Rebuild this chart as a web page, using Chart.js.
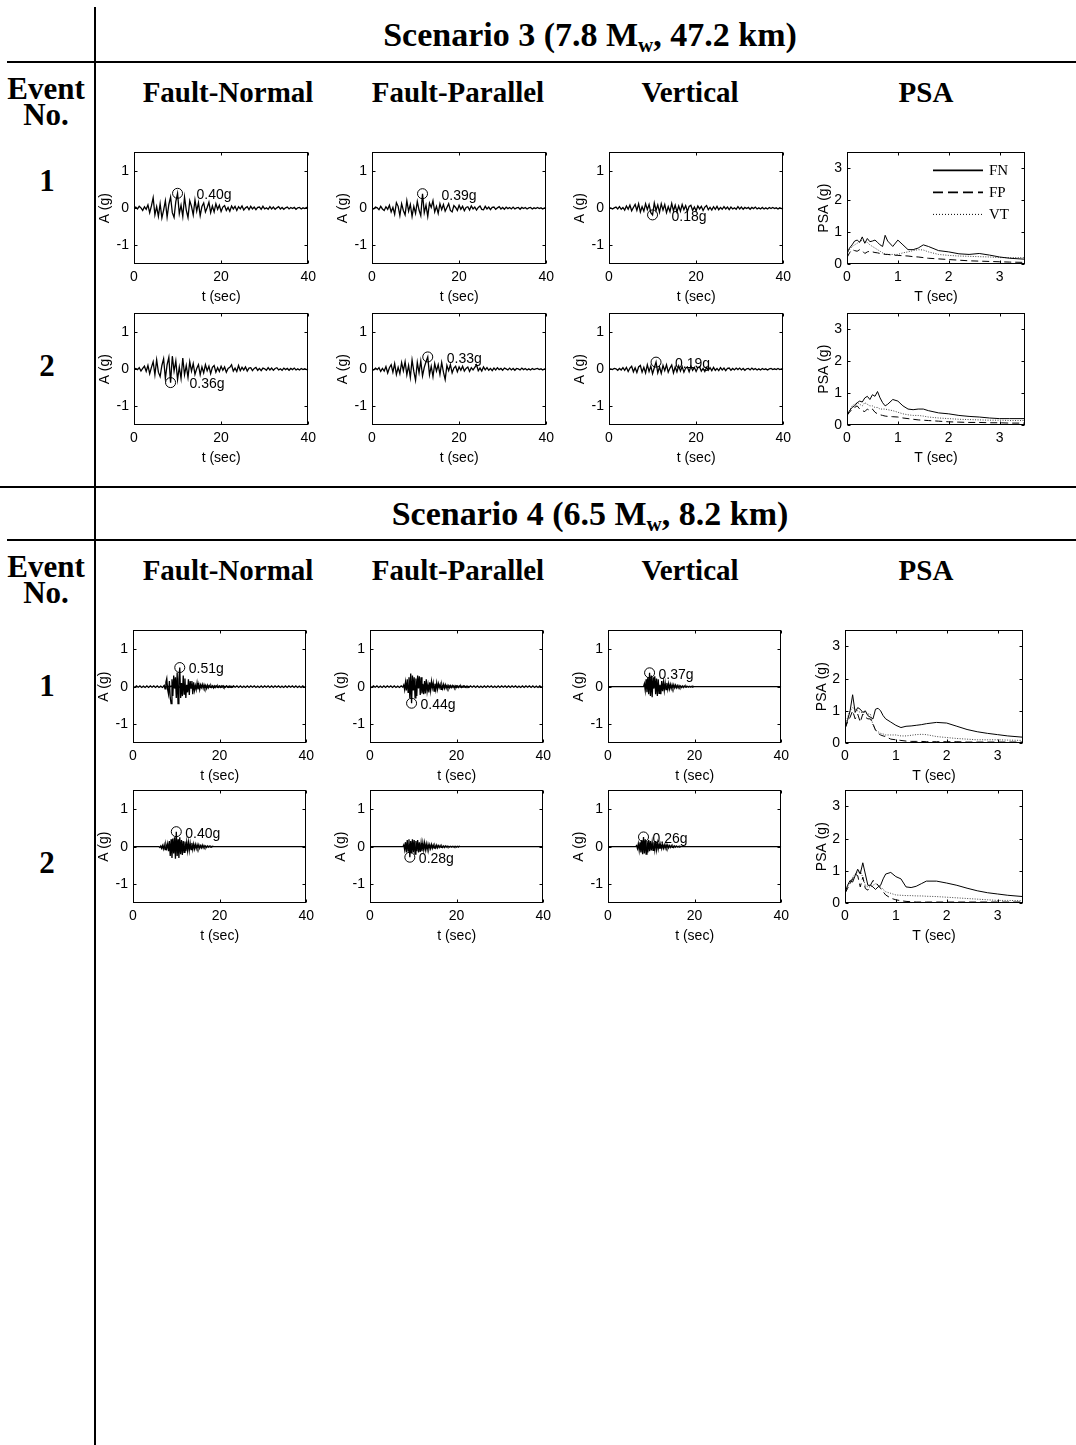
<!DOCTYPE html>
<html>
<head>
<meta charset="utf-8">
<script src="https://cdn.jsdelivr.net/npm/chart.js@4.4.0/dist/chart.umd.min.js"></script>
<style>
body { margin: 0; background: #fff; width: 1076px; height: 1445px; position: relative; overflow: hidden; font-family: "Liberation Serif", "Times New Roman", serif; }
.hd { position: absolute; font-weight: bold; font-size: 29px; line-height: 1; transform: translate(-50%, -50%); white-space: nowrap; color: #000; }
.ln { position: absolute; background: #000; }
</style>
</head>
<body>
<div class="ln" style="left:94px;top:7px;width:2px;height:1438px"></div>
<div class="ln" style="left:7px;top:61px;width:1069px;height:2px"></div>
<div class="ln" style="left:0;top:486px;width:1076px;height:2px"></div>
<div class="ln" style="left:7px;top:539px;width:1069px;height:2px"></div>
<script>
// ---- tick labels ----
const tsXTicks = [0, 20, 40];
const tsYTicks = [-1, 0, 1];
const psaTicks = [0, 1, 2, 3];
const seriesNames = ['FN', 'FP', 'VT'];
const columnTitles = ['Fault-Normal', 'Fault-Parallel', 'Vertical', 'PSA'];

// ---- Scenario 3 accelerograms (g), sampled every 0.4 s from t = 0 ----
const s3Step = 0.4;
const fnS3e1 = [0,0.03,-0.02,0.05,0.01,-0.06,0.04,-0.03,0.09,-0.12,
  0.06,0.28,-0.18,0.04,-0.22,0.12,-0.26,-0.05,0.2,-0.24,
  0.1,0.3,-0.12,-0.25,0.18,0.40,-0.15,0.08,-0.22,0.3,
  -0.05,-0.25,0.2,0.05,-0.18,0.22,-0.08,0.15,-0.2,0.05,
  0.14,-0.1,0.02,0.16,-0.12,0.06,-0.1,0.12,-0.03,0.08,
  -0.09,0.03,0.07,-0.06,0.02,-0.08,0.06,-0.02,0.05,-0.06,
  0.04,-0.02,0.06,-0.05,0.01,0.04,-0.04,0.05,-0.02,0.03,
  -0.04,0.02,0.03,-0.03,0.05,-0.02,0.01,-0.03,0.04,-0.02,
  0.03,-0.03,0.01,0.04,-0.02,0.02,-0.03,0.01,0.03,-0.02,
  0.02,-0.01,0.02,-0.03,0.01,0.02,-0.02,0.01,-0.01,0.02,0];
const fpS3e1 = [0,-0.02,0.03,0.01,-0.04,0.05,-0.02,-0.06,0.04,-0.03,
  0.08,-0.1,0.02,-0.16,0.15,0.05,-0.2,0.12,-0.06,-0.18,
  0.2,-0.08,0.1,-0.22,0.05,-0.14,0.18,-0.05,-0.2,0.39,
  -0.12,0.08,-0.22,0.14,0.02,0.2,-0.1,0.05,-0.14,0.12,
  -0.04,0.1,-0.08,0.02,0.12,-0.06,-0.1,0.07,0.02,-0.06,
  0.08,-0.03,0.05,-0.07,0.02,0.04,-0.05,0.06,-0.02,0.03,
  -0.05,0.02,0.06,-0.03,-0.04,0.05,-0.02,0.03,-0.04,0.02,
  0.03,-0.03,0.01,0.04,-0.02,0.02,-0.03,0.03,-0.01,0.02,
  -0.02,0.03,-0.02,0.01,0.02,-0.03,0.02,-0.01,0.02,-0.02,
  0.01,0.02,-0.02,0.01,-0.01,0.02,-0.01,0.01,-0.02,0.01,0];
const vtS3e1 = [0,0.01,-0.02,0.01,0.03,-0.02,0.04,-0.03,0.02,-0.05,
  0.06,-0.03,0.08,-0.07,0.02,0.1,-0.06,0.12,-0.1,0.04,
  -0.08,0.12,-0.04,0.1,-0.12,-0.18,0.14,-0.06,0.09,-0.11,
  0.12,-0.05,0.1,-0.12,0.04,-0.09,0.13,-0.07,0.08,-0.1,
  0.06,-0.08,0.1,-0.04,0.07,-0.09,0.05,0.08,-0.06,0.03,
  -0.07,0.06,-0.02,0.05,-0.06,0.03,0.07,-0.04,0.02,-0.05,
  0.04,-0.03,0.05,-0.04,0.02,-0.03,0.04,-0.02,0.03,-0.04,
  0.03,-0.02,0.01,-0.03,0.04,-0.02,0.03,-0.03,0.02,-0.01,
  0.02,-0.03,0.02,-0.01,0.03,-0.02,0.01,-0.02,0.02,-0.02,
  0.01,-0.02,0.02,-0.01,0.02,-0.01,0.01,-0.02,0.01,-0.01,0];
const fnS3e2 = [0,0.02,-0.01,0.04,-0.05,0.02,0.08,-0.06,0.1,-0.12,
  0.05,0.2,-0.15,0.25,-0.08,-0.2,0.1,0.28,-0.25,0.12,
  0.32,-0.36,0.35,-0.05,0.22,-0.28,0.06,-0.25,0.3,-0.15,
  0.1,-0.22,0.2,-0.05,0.15,-0.14,0.02,0.12,-0.15,0.06,
  -0.1,0.12,-0.04,0.08,-0.12,0.05,0.1,-0.08,0.04,-0.06,
  0.08,-0.03,0.06,-0.08,0.02,0.05,0.12,-0.05,0.03,-0.06,
  0.1,-0.04,0.05,-0.02,0.06,-0.05,0.03,0.04,-0.04,0.02,
  0.05,-0.03,0.02,-0.04,0.03,0.01,-0.03,0.04,-0.02,0.03,
  -0.03,0.02,0.04,-0.02,0.01,-0.03,0.03,-0.01,0.02,-0.03,
  0.02,-0.01,0.03,-0.02,0.01,-0.02,0.02,-0.01,0.01,-0.01,0];
const fpS3e2 = [0,-0.02,0.03,-0.01,0.04,-0.06,0.02,-0.05,0.07,-0.1,
  0.04,0.12,-0.08,0.15,-0.14,0.05,-0.12,0.18,-0.04,0.2,
  -0.15,0.1,-0.22,0.25,-0.06,-0.3,0.18,-0.1,0.22,-0.18,
  0.05,0.2,0.33,-0.15,0.08,-0.2,0.15,-0.05,0.12,-0.14,
  0.18,-0.08,-0.28,0.1,-0.04,0.12,-0.1,0.03,0.08,-0.07,
  0.06,-0.03,0.08,-0.05,0.02,0.06,-0.06,0.04,-0.02,0.05,
  0.12,-0.04,0.03,-0.05,0.06,-0.02,0.04,-0.03,0.02,-0.04,
  0.03,-0.02,0.04,-0.01,0.02,-0.03,0.03,0.01,-0.02,0.03,
  -0.02,0.02,-0.03,0.02,0.01,-0.02,0.03,-0.01,0.02,-0.02,
  0.01,-0.02,0.02,-0.01,0.01,0.02,-0.01,0.01,-0.02,0.01,0];
const vtS3e2 = [0,0.01,-0.01,0.02,0.01,-0.03,0.02,-0.02,0.04,-0.03,
  0.05,-0.06,0.03,0.08,-0.07,0.04,-0.09,0.06,0.1,-0.08,
  0.05,-0.1,0.12,-0.06,0.08,-0.12,0.04,0.19,-0.1,0.06,
  -0.11,0.1,-0.04,0.12,-0.08,0.03,0.11,-0.1,0.06,-0.07,
  0.09,-0.05,0.07,-0.08,0.03,0.06,-0.07,0.08,-0.03,0.05,
  -0.06,0.04,0.06,-0.05,0.02,-0.06,0.05,-0.03,0.04,-0.04,
  0.05,-0.03,0.02,-0.04,0.04,-0.02,0.03,-0.04,0.02,0.03,
  -0.03,0.02,-0.02,0.03,-0.01,0.03,-0.02,0.02,-0.03,0.01,
  0.02,-0.02,0.03,-0.01,0.02,-0.02,0.01,-0.02,0.02,-0.01,
  0.01,-0.02,0.01,0.02,-0.01,0.01,-0.01,0.02,-0.01,0.01,0];
const peakTimeS3 = [10.0, 11.6, 10.0, 8.4, 12.8, 10.8];
const peakAccS3 = [0.40, 0.39, -0.18, -0.36, 0.33, 0.19];

// ---- Scenario 4 accelerograms (g), sampled every 0.2 s from their start times ----
const s4Step = 0.2;
const s4Start = [7.0, 7.6, 8.2, 6.0, 7.6, 6.4];
const fnS4e1 = [0,0.03,-0.06,0.12,0.22,-0.08,-0.2,0.15,-0.3,-0.45,
  0.2,-0.25,0.3,-0.05,0.25,-0.3,0.38,-0.45,0.2,0.51,
  -0.3,0.1,-0.25,0.3,-0.2,0.22,-0.3,0.05,-0.15,0.2,
  -0.22,0.15,-0.04,0.15,-0.2,0.12,-0.1,0.03,-0.08,0.1,
  -0.07,0.06,-0.08,0.05,-0.02,0.06,-0.04,0.05,-0.04,0.03,
  -0.05,0.04,-0.03,0.03,-0.02,0.03,-0.02,0.02,-0.03,0.02,
  -0.02,0.02,-0.01,0.02,-0.02,0.01,-0.02,0.02,-0.01,0.02,
  -0.02,0.01,-0.01,0.02,-0.01,0.01,-0.01,0.01,-0.01,0.01,-0.01,0.01,0];
const fpS4e1 = [0,0.05,-0.08,0.12,-0.1,0.2,-0.15,0.25,-0.3,0.35,
  -0.44,0.3,-0.1,0.25,-0.3,0.22,-0.25,0.3,-0.05,0.28,
  -0.22,0.25,-0.18,0.08,-0.2,0.15,-0.18,0.2,-0.12,0.05,
  -0.15,0.12,-0.1,0.14,-0.03,0.1,-0.12,0.08,-0.08,0.1,
  -0.07,0.08,-0.02,0.06,-0.07,0.05,-0.05,0.06,-0.04,0.05,
  -0.04,0.03,-0.04,0.03,-0.03,0.03,-0.02,0.03,-0.02,0.02,
  -0.03,0.02,-0.02,0.02,-0.02,0.02,-0.01,0.02,-0.02,0.01,
  -0.01,0.02,-0.01,0.01,-0.01,0.01,-0.01,0];
const vtS4e1 = [0,0.08,-0.1,0.2,-0.15,0.25,-0.2,0.37,-0.25,0.3,
  -0.28,0.25,-0.05,0.28,-0.2,0.22,-0.25,0.2,-0.18,0.05,
  -0.2,0.15,-0.12,0.12,-0.1,0.1,-0.08,0.1,-0.07,0.08,
  -0.06,0.06,-0.05,0.05,-0.04,0.05,-0.03,0.04,-0.03,0.03,
  -0.03,0.03,-0.02,0.02,-0.02,0.02,-0.02,0.02,-0.01,0.02,
  -0.01,0.01,-0.01,0.01,-0.01,0.01,-0.01,0.01,0];
const fnS4e2 = [0,-0.02,0.02,-0.04,0.03,-0.06,0.05,-0.08,0.06,-0.04,
  0.08,-0.12,0.15,-0.25,0.2,-0.3,0.22,-0.18,0.25,-0.32,
  0.4,-0.25,0.2,-0.3,0.25,-0.2,0.18,-0.22,0.15,-0.15,
  0.14,-0.12,0.12,-0.1,0.12,-0.1,0.09,-0.08,0.1,-0.07,
  0.07,-0.06,0.06,-0.05,0.05,-0.04,0.05,-0.04,0.03,-0.03,
  0.04,-0.03,0.03,-0.02,0.02,-0.02,0.02,-0.01,0.02,-0.01,
  0.01,-0.01,0.01,0];
const fpS4e2 = [0,0.05,-0.08,0.12,-0.15,0.18,-0.12,0.2,-0.28,0.15,
  -0.18,0.2,-0.15,0.18,-0.2,0.15,-0.12,0.18,-0.15,0.12,
  -0.14,0.1,-0.12,0.1,-0.08,0.1,-0.08,0.07,-0.08,0.06,
  -0.06,0.05,-0.05,0.06,-0.04,0.04,-0.04,0.03,-0.03,0.04,
  -0.03,0.03,-0.02,0.03,-0.02,0.02,-0.02,0.02,-0.02,0.02,
  -0.01,0.02,-0.01,0.01,-0.01,0.01,-0.01,0.01,-0.01,0.01,
  -0.01,0.01,-0.01,0.01,-0.01,0.01,0];
const vtS4e2 = [0,0.03,-0.05,0.08,-0.1,0.12,-0.15,0.18,-0.2,0.26,
  -0.18,0.2,-0.2,0.15,-0.15,0.18,-0.12,0.15,-0.1,0.12,
  -0.1,0.12,-0.08,0.15,-0.08,0.1,-0.06,0.08,-0.06,0.07,
  -0.05,0.06,-0.04,0.05,-0.04,0.05,-0.03,0.04,-0.03,0.03,
  -0.02,0.03,-0.02,0.02,-0.02,0.02,-0.01,0.02,-0.01,0.01,
  -0.01,0.01,0];
// low-level wobble seen on the whole event-1 FN/FP records (0.4 s steps from t = 0)
const rippleS4e1 = [0.02,-0.02,0.02,-0.015,0.02,-0.02,0.015,-0.02,0.02,-0.02,
  0.02,-0.015,0.02,-0.02,0.02,-0.02,0.015,-0.02,0.02,-0.015,
  0.02,-0.02,0.02,-0.02,0.015,-0.02,0.02,-0.02,0.02,-0.015,
  0.02,-0.02,0.015,-0.02,0.02,-0.02,0.02,-0.015,0.02,-0.02,
  0.02,-0.02,0.02,-0.015,0.02,-0.02,0.015,-0.02,0.02,-0.02,
  0.02,-0.015,0.02,-0.02,0.02,-0.02,0.015,-0.02,0.02,-0.015,
  0.02,-0.02,0.02,-0.02,0.015,-0.02,0.02,-0.02,0.02,-0.015,
  0.02,-0.02,0.015,-0.02,0.02,-0.02,0.02,-0.015,0.02,-0.02,
  0.02,-0.02,0.02,-0.015,0.02,-0.02,0.015,-0.02,0.02,-0.02,
  0.02,-0.015,0.02,-0.02,0.02,-0.02,0.015,-0.02,0.02,-0.015,0.02];
const peakTimeS4 = [10.8, 9.6, 9.6, 10.0, 9.2, 8.2];
const peakAccS4 = [0.51, -0.44, 0.37, 0.40, -0.28, 0.26];

// ---- PSA (g) at these periods (sec) ----
const psaPeriods = [0,0.05,0.1,0.15,0.2,0.25,0.3,0.35,0.4,0.45,0.5,0.55,0.6,0.65,0.7,0.75,0.8,0.9,1.0,1.1,1.2,1.3,1.4,1.5,1.6,1.8,2.0,2.2,2.4,2.6,2.8,3.0,3.2,3.5];
const psaFnS3e1 = [0.35,0.5,0.6,0.72,0.75,0.68,0.85,0.65,0.8,0.7,0.72,0.75,0.68,0.6,0.55,0.9,0.72,0.55,0.75,0.6,0.45,0.45,0.5,0.6,0.55,0.42,0.38,0.32,0.3,0.33,0.28,0.22,0.18,0.15];
const psaFpS3e1 = [0.2,0.35,0.45,0.42,0.4,0.45,0.42,0.33,0.38,0.4,0.38,0.36,0.35,0.33,0.32,0.3,0.3,0.28,0.27,0.26,0.25,0.23,0.22,0.2,0.18,0.16,0.14,0.12,0.1,0.09,0.08,0.07,0.06,0.05];
const psaVtS3e1 = [0.3,0.45,0.55,0.6,0.65,0.7,0.75,0.7,0.68,0.6,0.55,0.5,0.45,0.4,0.35,0.32,0.3,0.3,0.3,0.35,0.38,0.42,0.45,0.44,0.38,0.3,0.27,0.25,0.24,0.23,0.22,0.2,0.2,0.2];
const psaFnS3e2 = [0.3,0.45,0.55,0.6,0.7,0.75,0.72,0.85,0.9,0.8,0.95,0.9,1.05,0.85,0.7,0.6,0.65,0.8,0.75,0.6,0.5,0.48,0.5,0.5,0.45,0.38,0.35,0.3,0.27,0.25,0.22,0.2,0.2,0.2];
const psaFpS3e2 = [0.3,0.4,0.5,0.55,0.6,0.5,0.45,0.42,0.5,0.45,0.5,0.4,0.35,0.32,0.3,0.28,0.27,0.26,0.25,0.22,0.2,0.18,0.16,0.15,0.14,0.12,0.1,0.09,0.08,0.08,0.07,0.07,0.06,0.06];
const psaVtS3e2 = [0.3,0.45,0.6,0.65,0.7,0.65,0.6,0.7,0.65,0.6,0.6,0.55,0.55,0.5,0.5,0.5,0.48,0.45,0.4,0.35,0.32,0.3,0.3,0.28,0.25,0.22,0.2,0.18,0.17,0.16,0.15,0.15,0.14,0.14];
const psaFnS4e1 = [0.45,0.7,1.0,1.5,0.95,1.1,1.05,0.95,1.0,0.85,0.8,0.75,1.05,1.08,1.0,0.85,0.75,0.65,0.55,0.48,0.52,0.53,0.55,0.57,0.6,0.64,0.62,0.52,0.42,0.35,0.3,0.26,0.22,0.18];
const psaFpS4e1 = [0.45,0.65,0.8,1.0,0.75,0.9,0.65,0.9,0.8,0.75,0.75,0.6,0.4,0.3,0.25,0.22,0.2,0.12,0.1,0.08,0.06,0.05,0.05,0.05,0.04,0.04,0.04,0.04,0.03,0.03,0.03,0.03,0.03,0.03];
const psaVtS4e1 = [0.45,0.8,1.0,1.1,1.05,1.0,0.95,0.95,0.95,0.9,0.9,0.55,0.4,0.35,0.3,0.28,0.25,0.25,0.25,0.22,0.22,0.24,0.26,0.27,0.26,0.2,0.17,0.14,0.12,0.1,0.1,0.1,0.09,0.08];
const psaFnS4e2 = [0.3,0.55,0.7,0.65,0.85,1.05,0.9,1.25,0.9,0.55,0.55,0.5,0.42,0.5,0.55,0.75,0.9,0.95,0.82,0.75,0.5,0.48,0.52,0.6,0.68,0.68,0.62,0.55,0.46,0.38,0.32,0.28,0.24,0.2];
const psaFpS4e2 = [0.3,0.45,0.6,0.75,0.9,0.85,0.5,0.8,0.45,0.4,0.55,0.7,0.65,0.55,0.45,0.35,0.25,0.15,0.1,0.07,0.05,0.04,0.03,0.03,0.03,0.03,0.03,0.03,0.03,0.03,0.03,0.03,0.03,0.03];
const psaVtS4e2 = [0.3,0.5,0.65,0.8,0.9,0.95,1.0,0.8,0.55,0.5,0.5,0.55,0.6,0.55,0.5,0.42,0.35,0.3,0.25,0.24,0.23,0.23,0.22,0.22,0.21,0.2,0.18,0.16,0.14,0.12,0.1,0.08,0.08,0.07];

// ---- page layout ----
const sansFont = { family: 'Liberation Sans, Arial, sans-serif', size: 14 };
const serif = '"Liberation Serif", "Times New Roman", serif';

function head(text, cx, cy, size) {
  const d = document.createElement('div');
  d.className = 'hd';
  d.innerHTML = text;
  d.style.left = cx + 'px';
  d.style.top = cy + 'px';
  if (size) d.style.fontSize = size + 'px';
  document.body.appendChild(d);
}

function toPoints(t0, dt, vals) {
  return vals.map((v, i) => ({ x: Math.round((t0 + i * dt) * 100) / 100, y: v }));
}

// box frame with inward ticks, peak label, optional legend
const framePlugin = {
  id: 'frame',
  afterDatasetsDraw(chart, args, opts) {
    const { ctx, chartArea: a, scales: { x, y } } = chart;
    const L = Math.round(a.left) + 0.5, T = Math.round(a.top) + 0.5;
    const R = Math.round(a.right) - 0.5, B = Math.round(a.bottom) - 0.5;
    ctx.save();
    ctx.strokeStyle = '#000';
    ctx.lineWidth = 1;
    ctx.setLineDash([]);
    ctx.strokeRect(L, T, R - L, B - T);
    ctx.beginPath();
    x.ticks.forEach(t => {
      const p = Math.round(x.getPixelForValue(t.value)) + 0.5;
      ctx.moveTo(p, B); ctx.lineTo(p, B - 3);
      ctx.moveTo(p, T); ctx.lineTo(p, T + 3);
    });
    y.ticks.forEach(t => {
      const p = Math.round(y.getPixelForValue(t.value)) + 0.5;
      ctx.moveTo(L, p); ctx.lineTo(L + 3, p);
      ctx.moveTo(R, p); ctx.lineTo(R - 3, p);
    });
    ctx.stroke();
    if (opts.peakT !== undefined) {
      const px = x.getPixelForValue(opts.peakT), py = y.getPixelForValue(opts.peakA);
      ctx.fillStyle = '#000';
      ctx.font = '14px ' + sansFont.family;
      ctx.textBaseline = 'middle';
      ctx.textAlign = 'left';
      ctx.fillText(Math.abs(opts.peakA).toFixed(2) + 'g', px + opts.dx, py + 2);
    }
    if (opts.legend) {
      chart.data.datasets.forEach((ds, i) => {
        const ly = a.top + 18 + i * 22;
        ctx.beginPath();
        ctx.lineWidth = i === 2 ? 1 : 1.6;
        ctx.strokeStyle = '#000';
        ctx.setLineDash(i === 1 ? [10, 5] : (i === 2 ? [1, 2] : []));
        ctx.moveTo(a.left + 86, ly); ctx.lineTo(a.left + 136, ly);
        ctx.stroke();
        ctx.setLineDash([]);
        ctx.fillStyle = '#000';
        ctx.font = '15px ' + serif;
        ctx.textBaseline = 'middle';
        ctx.textAlign = 'left';
        ctx.fillText(ds.label, a.left + 142, ly + 1);
      });
    }
    ctx.restore();
  }
};
Chart.register(framePlugin);

function makeCanvas(left, top, w, h) {
  const cv = document.createElement('canvas');
  cv.width = w + 53;
  cv.height = h + 54;
  cv.style.cssText = `position:absolute;left:${left - 45}px;top:${top - 6}px;width:${w + 53}px;height:${h + 54}px`;
  document.body.appendChild(cv);
  return cv;
}

function axes(xMax, yMin, yMax, xTicks, yTicks, xTitle, yTitle, yTitlePad) {
  const fix = vals => s => { s.ticks = vals.map(v => ({ value: v })); };
  return {
    x: {
      type: 'linear', min: 0, max: xMax,
      afterBuildTicks: fix(xTicks),
      afterFit: s => { s.height = 48; },
      grid: { display: false, drawTicks: false }, border: { display: false },
      ticks: { color: '#000', font: sansFont, padding: 5, autoSkip: false, maxRotation: 0, callback: v => String(v) },
      title: { display: true, text: xTitle, color: '#000', font: sansFont, padding: { top: 0, bottom: 6 } }
    },
    y: {
      type: 'linear', min: yMin, max: yMax,
      afterBuildTicks: fix(yTicks),
      afterFit: s => { s.width = 45; },
      grid: { display: false, drawTicks: false }, border: { display: false },
      ticks: { color: '#000', font: sansFont, padding: 5, callback: v => String(v) },
      title: { display: true, text: yTitle, color: '#000', font: sansFont, padding: { top: yTitlePad, bottom: 0 } }
    }
  };
}

function timeChart(left, top, w, h, lines, peakT, peakA, dx) {
  const datasets = lines.map(pts => ({ data: pts, borderColor: '#000', borderWidth: 1.3, pointRadius: 0, tension: 0 }));
  datasets.push({
    data: [{ x: peakT, y: peakA }], showLine: false, pointRadius: 5, pointStyle: 'circle',
    pointBorderColor: '#000', pointBackgroundColor: 'rgba(0,0,0,0)', pointBorderWidth: 1
  });
  new Chart(makeCanvas(left, top, w, h), {
    type: 'line',
    data: { datasets },
    options: {
      responsive: false, animation: false, devicePixelRatio: 1, events: [],
      layout: { padding: { top: 6, right: 8, left: 0, bottom: 0 } },
      plugins: { legend: { display: false }, tooltip: { enabled: false }, frame: { peakT, peakA, dx } },
      scales: axes(40, -1.5, 1.5, tsXTicks, tsYTicks, 't (sec)', 'A (g)', 8)
    }
  });
}

function psaChart(left, top, w, h, fn, fp, vt, showLegend) {
  const mk = vals => psaPeriods.map((t, i) => ({ x: t, y: vals[i] }));
  new Chart(makeCanvas(left, top, w, h), {
    type: 'line',
    data: {
      datasets: [
        { label: seriesNames[0], data: mk(fn), borderColor: '#000', borderWidth: 1, pointRadius: 0 },
        { label: seriesNames[1], data: mk(fp), borderColor: '#000', borderWidth: 1, borderDash: [7, 4], pointRadius: 0 },
        { label: seriesNames[2], data: mk(vt), borderColor: '#444', borderWidth: 1, borderDash: [1, 1.5], pointRadius: 0 }
      ]
    },
    options: {
      responsive: false, animation: false, devicePixelRatio: 1, events: [],
      layout: { padding: { top: 6, right: 8, left: 0, bottom: 0 } },
      plugins: { legend: { display: false }, tooltip: { enabled: false }, frame: { legend: showLegend } },
      scales: axes(3.5, 0, 3.5, psaTicks, psaTicks, 'T (sec)', 'PSA (g)', 14)
    }
  });
}

// ---- headers ----
head('Scenario 3 (7.8 M<sub style="font-size:62%;vertical-align:-0.25em">w</sub>, 47.2 km)', 590, 37, 34);
head('Scenario 4 (6.5 M<sub style="font-size:62%;vertical-align:-0.25em">w</sub>, 8.2 km)', 590, 516, 34);
const headX = [228, 458, 690, 926];
[92, 570].forEach(y => columnTitles.forEach((t, i) => head(t, headX[i], y)));
[[88, 114], [566, 592]].forEach(([a, b]) => { head('Event', 46, a, 31); head('No.', 46, b, 31); });
[[180, '1'], [365, '2'], [685, '1'], [862, '2']].forEach(([y, t]) => head(t, 47, y, 31));

// ---- Scenario 3 charts ----
const colS3 = [134, 372, 609, 847];
const rowS3 = [145, 306];
const s3Records = [[fnS3e1, fpS3e1, vtS3e1], [fnS3e2, fpS3e2, vtS3e2]];
s3Records.forEach((rec, r) => {
  rec.forEach((vals, c) => {
    const k = r * 3 + c;
    timeChart(colS3[c], rowS3[r], 179, 119, [toPoints(0, s3Step, vals)], peakTimeS3[k], peakAccS3[k], 19);
  });
});
psaChart(colS3[3], rowS3[0], 178, 119, psaFnS3e1, psaFpS3e1, psaVtS3e1, true);
psaChart(colS3[3], rowS3[1], 178, 119, psaFnS3e2, psaFpS3e2, psaVtS3e2, false);

// ---- Scenario 4 charts ----
const colS4 = [133, 370, 608, 845];
const rowS4 = [623, 783];
const s4Records = [[fnS4e1, fpS4e1, vtS4e1], [fnS4e2, fpS4e2, vtS4e2]];
s4Records.forEach((rec, r) => {
  rec.forEach((vals, c) => {
    const k = r * 3 + c;
    const pts = toPoints(s4Start[k], s4Step, vals);
    const lines = (r === 0 && c < 2)
      ? [toPoints(0, s3Step, rippleS4e1), pts]
      : [[{ x: 0, y: 0 }, ...pts, { x: 40, y: 0 }]];
    timeChart(colS4[c], rowS4[r], 178, 120, lines, peakTimeS4[k], peakAccS4[k], 9);
  });
});
psaChart(colS4[3], rowS4[0], 178, 120, psaFnS4e1, psaFpS4e1, psaVtS4e1, false);
psaChart(colS4[3], rowS4[1], 178, 120, psaFnS4e2, psaFpS4e2, psaVtS4e2, false);
</script>
</body>
</html>
